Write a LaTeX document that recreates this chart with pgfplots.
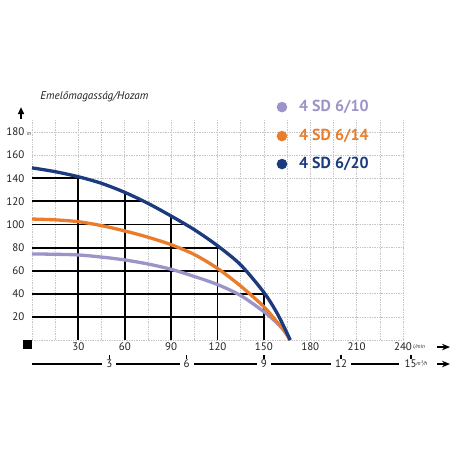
\documentclass[border=0pt]{standalone}
\usepackage{fontspec}
\setmainfont{PT Sans}
\usepackage{pgfplots}
\pgfplotsset{compat=1.18}
\usetikzlibrary{arrows.meta}
\definecolor{navy}{HTML}{1C3B7E}
\definecolor{orng}{HTML}{EA7D2C}
\definecolor{lav}{HTML}{9A94C8}
\definecolor{txt}{HTML}{231F20}
\tikzset{m3lab/.style={fill=white, inner xsep=4bp, inner ysep=0.5bp, text=txt, font=\fontsize{11}{12}\selectfont},
  m3tick/.style={black, line width=1.5bp}}
\begin{document}
\begin{tikzpicture}
\path (0,0) rectangle (456bp,456bp);
\begin{axis}[
  at={(32bp,116bp)}, anchor=south west,
  scale only axis, width=371bp, height=219.5bp,
  xmin=0, xmax=240, ymin=0, ymax=190,
  axis line style={draw=none},
  clip=false,
  xtick={0,30,...,240},
  xticklabels={,30,60,90,120,150,180,210,240},
  minor xtick={15,45,...,225},
  ytick={0,20,...,180},
  yticklabels={,20,40,60,80,100,120,140,160,{180\rlap{\hspace{2.5bp}\fontsize{5.5}{6}\selectfont\itshape m}}},
  grid=both,
  major grid style={dash pattern=on 0.6bp off 1.1bp, gray!45, line width=0.6bp},
  minor grid style={dash pattern=on 0.6bp off 1.1bp, gray!45, line width=0.6bp},
  major tick length=0pt, minor tick length=0pt,
  tick style={draw=none},
  /pgf/number format/assume math mode=true,
  ticklabel style={font=\fontsize{11}{12}\selectfont, text=txt},
  xticklabel style={inner sep=2.5bp},
  yticklabel style={inner sep=1bp, xshift=-6.5bp},
]
% black grid below the 4 SD 6/20 curve
\addplot[black, line width=1.9bp, forget plot] coordinates {(0,20)(150,20)};
\addplot[black, line width=1.9bp, forget plot] coordinates {(0,40)(150,40)};
\addplot[black, line width=1.9bp, forget plot] coordinates {(0,60)(137.5,60)};
\addplot[black, line width=1.9bp, forget plot] coordinates {(0,80)(121.2,80)};
\addplot[black, line width=1.9bp, forget plot] coordinates {(0,100)(99.3,100)};
\addplot[black, line width=1.9bp, forget plot] coordinates {(0,120)(72.3,120)};
\addplot[black, line width=1.9bp, forget plot] coordinates {(0,140)(32.5,140)};
\addplot[black, line width=1.9bp, forget plot] coordinates {(30,0)(30,141.3)};
\addplot[black, line width=1.9bp, forget plot] coordinates {(60,0)(60,127.8)};
\addplot[black, line width=1.9bp, forget plot] coordinates {(90,0)(90,107.3)};
\addplot[black, line width=1.9bp, forget plot] coordinates {(120,0)(120,81.6)};
\addplot[black, line width=1.9bp, forget plot] coordinates {(150,0)(150,41.2)};
% curves
\addplot[lav, line width=3.3bp, smooth] coordinates {
(0,74.5)(15,74.2)(30,73.6)(45,71.8)(60,69.3)(75,65.8)(90,61.2)(105,55)(120,48)(135,38.5)(150,24.5)(158,15.3)(163,8)(167,0)};
\addplot[orng, line width=3.3bp, smooth] coordinates {
(0,104.7)(15,104)(30,102.4)(45,99)(60,94.4)(75,89)(90,82.5)(105,74)(120,62)(135,46.7)(150,28.8)(158,16.4)(163,8.7)(167,0)};
\addplot[navy, line width=3.3bp, smooth] coordinates {
(0,149)(15,145.7)(30,141.3)(45,135.6)(60,127.8)(75,118.3)(90,107.3)(105,95.5)(120,81.6)(135,65)(150,41.2)(158,24.5)(163,11.5)(167,0)};
% title
\node[anchor=west, text=txt, font=\fontsize{11.2}{13}\selectfont\itshape] at (axis cs:3.2,210.3) {Emelőmagasság/Hozam};
% legend
\fill[lav] (axis cs:161.7,201.6) circle[radius=5.3bp];
\fill[orng] (axis cs:161.7,176.5) circle[radius=5.3bp];
\fill[navy] (axis cs:161.7,152.3) circle[radius=5.3bp];
\node[anchor=west, text=lav, font=\fontsize{16}{18}\selectfont\bfseries, inner sep=0pt] at (axis cs:172.7,201.6) {4 SD 6/10};
\node[anchor=west, text=orng, font=\fontsize{16}{18}\selectfont\bfseries, inner sep=0pt] at (axis cs:172.7,176.5) {4 SD 6/14};
\node[anchor=west, text=navy, font=\fontsize{16}{18}\selectfont\bfseries, inner sep=0pt] at (axis cs:172.7,152.3) {4 SD 6/20};
% y axis arrow
\draw[black, line width=1.6bp, -{Triangle[length=7bp,width=6bp]}] (axis cs:-7.1,191.2) -- (axis cs:-7.1,201.6);
% origin square
\fill[black] (axis cs:-6,0) rectangle (axis cs:0.2,-7.8);
% l/min unit and arrow
\node[anchor=west, text=txt, font=\fontsize{5.5}{6}\selectfont\itshape, inner sep=0pt] at (axis cs:246.4,-6.1) {l/min};
\draw[black, line width=1.5bp, -{Stealth[length=8bp,width=6.5bp]}] (axis cs:262,-6.1) -- (axis cs:270.4,-6.1);
% second axis m3/h
\draw[black, line width=1.6bp] (axis cs:0,-20.8) -- (axis cs:237.5,-20.8);
\node[m3lab] at (axis cs:50,-20.8) {3};
\node[m3lab] at (axis cs:100,-20.8) {6};
\node[m3lab] at (axis cs:150,-20.8) {9};
\node[m3lab] at (axis cs:200,-20.8) {12};
\node[m3lab, anchor=west, inner xsep=1.5bp] at (axis cs:240,-20.8) {15};
\node[anchor=west, text=txt, font=\fontsize{5.5}{6}\selectfont\itshape, inner sep=0pt] at (axis cs:248.5,-20.8) {m³/h};
\draw[m3tick] (axis cs:50,-13) -- (axis cs:50,-16.7);
\draw[m3tick] (axis cs:100,-13) -- (axis cs:100,-16.7);
\draw[m3tick] (axis cs:150,-13) -- (axis cs:150,-16.7);
\draw[m3tick] (axis cs:200,-13) -- (axis cs:200,-16.7);
\draw[m3tick] (axis cs:245.2,-13) -- (axis cs:245.2,-16.7);
\draw[black, line width=1.5bp, -{Stealth[length=8bp,width=6.5bp]}] (axis cs:262,-20.8) -- (axis cs:270.4,-20.8);
\end{axis}
\end{tikzpicture}
\end{document}
